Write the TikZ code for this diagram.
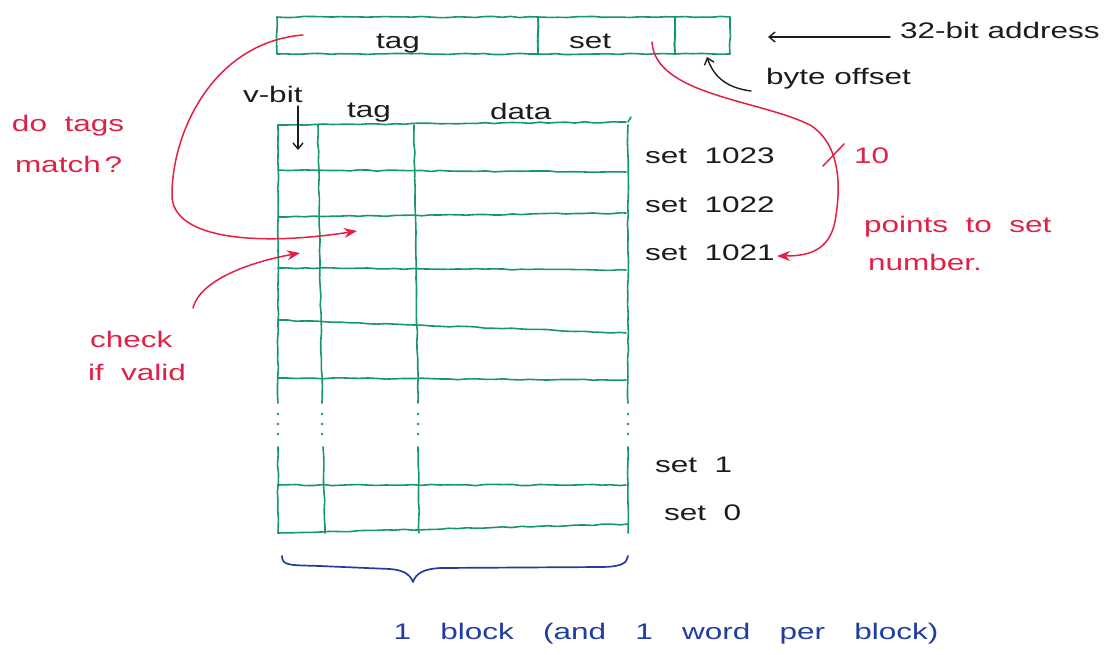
\documentclass[tikz,border=0pt]{standalone}
\usepackage{fontspec}
\newfontfamily\hand[FakeStretch=1.4]{Liberation Sans}
\usetikzlibrary{arrows.meta,decorations.pathmorphing}
\definecolor{inkgreen}{RGB}{22,150,108}
\definecolor{inkred}{RGB}{226,32,70}
\definecolor{inkblue}{RGB}{32,62,160}
\definecolor{inkblack}{RGB}{28,28,28}
\begin{document}
\begin{tikzpicture}[x=1pt,y=-1pt,
  every node/.style={inner sep=0pt, outer sep=0pt},
  txt/.style={font=\hand\fontsize{22.5}{26}\selectfont, text=inkblack, anchor=base west},
  redtxt/.style={txt, text=inkred},
  bluetxt/.style={txt, text=inkblue, anchor=base},
  wobble/.style={decorate, decoration={random steps, segment length=9pt, amplitude=0.6pt}},
  gline/.style={draw=inkgreen, line width=1.6pt, line cap=round, line join=round, wobble},
  field/.style={gline, rectangle, minimum height=37pt},
  gdot/.style={fill=inkgreen, draw=none, circle, minimum size=2.8pt},
  blackarrow/.style={draw=inkblack, line width=1.4pt, line cap=round, -{Straight Barb[length=6pt, width=10pt, line width=1.4pt]}},
  redarrow/.style={draw=inkred, line width=1.5pt, line cap=round, -{Stealth[length=13pt, width=10pt]}},
  brace/.style={draw=inkblue, line width=1.7pt, line cap=round, line join=round}
]
\pgfmathsetseed{7}
\useasboundingbox (0,0) rectangle (1115,654);

% ---- 32-bit address: tag | set | byte offset ----
\node[field, minimum width=261pt] (ftag) at (407.5,35.5) {};
\node[field, minimum width=137pt] (fset) at (606.5,35.5) {};
\node[field, minimum width=55pt]  (foff) at (702.5,35.5) {};
\node[txt] (ltag) at (376,48) {tag};
\node[txt] (lset) at (569,48) {set};

\node[txt] (addr) at (900,38) {32-bit address};
\coordinate (addrtail) at (890,37);
\coordinate (addrtip) at (768,37);
\draw[blackarrow] (addrtail) -- (addrtip);

\node[txt] (boff) at (766,84) {byte offset};
\coordinate (bofftail) at (751,91);
\coordinate (bofftip) at (707,57);
\draw[blackarrow] (bofftail) .. controls (728,88) and (714,78) .. (bofftip);

% ---- cache array ----
% horizontal row lines
\foreach \yl/\yr in {125/122, 170/172, 217/213, 268/270, 320/333, 378/380, 485/485}
  \draw[gline] (278,\yl) -- (626,\yr);
\draw[gline] (278,533) -- (628,524);
\draw[gline] (628,122) -- (631,117);
% vertical column lines, broken by dots
\foreach \xt/\xb in {278/278, 318/322, 414/418, 628/628}{
  \draw[gline] (\xt,125) -- (\xb,403);
  \foreach \yd in {414,424,434} \node[gdot] at (\xb,\yd) {};
}
\foreach \xa/\xb in {278/278, 323/325, 418/419, 628/628}
  \draw[gline] (\xa,447) -- (\xb,533);

% column headers
\node[txt] (vbit) at (243,102) {v-bit};
\node[txt] (htag) at (347,117) {tag};
\node[txt] (hdata) at (490,119) {data};
\coordinate (vbittail) at (298,106);
\coordinate (vbittip) at (298,150);
\draw[blackarrow] (vbittail) -- (vbittip);

% set labels
\node[txt] (s1023) at (645,163) {set\ \ 1023};
\node[txt] (s1022) at (645,212) {set\ \ 1022};
\node[txt] (s1021) at (645,260) {set\ \ 1021};
\node[txt] (s1) at (655,472) {set\ \ 1};
\node[txt] (s0) at (664,520) {set\ \ 0};

% ---- red annotations ----
\node[redtxt] (match1) at (12,131) {do\ \ tags};
\node[redtxt] (match2) at (15,172) {match\,?};
\node[redtxt] (valid1) at (90,347) {check};
\node[redtxt] (valid2) at (88,380) {if\ \ valid};
\node[redtxt] (ten) at (854,163) {10};
\node[redtxt] (pts1) at (864,232) {points\ \ to\ \ set};
\node[redtxt] (pts2) at (868,270) {number.};

% tag bits compared against the stored tag
\coordinate (tagstart) at (303,35);
\coordinate (tagcell) at (357,231);
\draw[redarrow] (tagstart) .. controls (215,42) and (172,130) .. (172,195)
  .. controls (172,240) and (260,246) .. (tagcell);

% set bits select the row
\coordinate (setstart) at (652,42);
\coordinate (setrow) at (777,256);
\draw[redarrow] (setstart) .. controls (655,95) and (760,100) .. (810,125)
  .. controls (842,145) and (840,190) .. (836,215)
  .. controls (832,250) and (810,256) .. (setrow);
\coordinate (slash1) at (823,166);
\coordinate (slash2) at (844,144);
\draw[draw=inkred, line width=1.5pt, line cap=round] (slash1) -- (slash2);

% valid bit check
\coordinate (validtail) at (193,308);
\coordinate (validcell) at (300,253);
\draw[redarrow] (validtail) .. controls (200,280) and (250,262) .. (validcell);

% ---- block brace ----
\coordinate (bl) at (282,556);
\coordinate (br) at (628,556);
\coordinate (btip) at (413,582);
\draw[brace] (bl) .. controls (282,566) and (290,565) .. (320,566) -- (390,569)
  .. controls (403,570) and (410,574) .. (btip)
  .. controls (416,573) and (424,569) .. (440,568) -- (600,567)
  .. controls (622,567) and (627,563) .. (br);
\node[bluetxt] (blk) at (666,639) {1\hspace{1.3em}block\hspace{1.3em}(and\hspace{1.3em}1\hspace{1.3em}word\hspace{1.3em}per\hspace{1.3em}block)};

\end{tikzpicture}
\end{document}
